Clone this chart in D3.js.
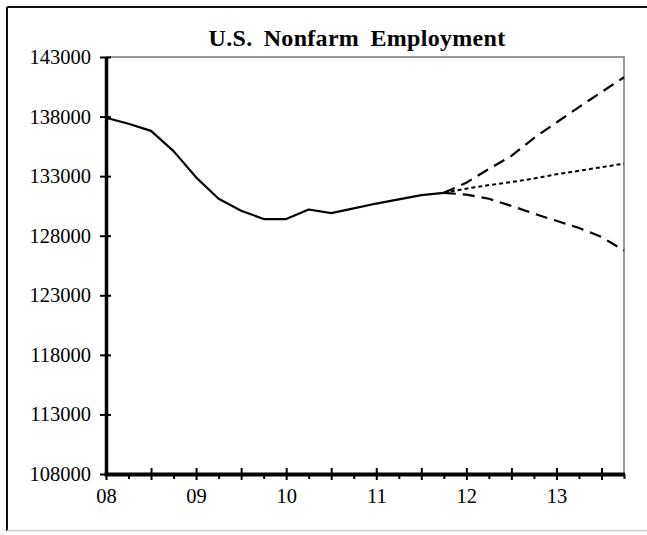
<!DOCTYPE html>
<html>
<head>
<meta charset="utf-8">
<script src="https://cdn.jsdelivr.net/npm/d3@7"></script>
<style>
  html, body { margin: 0; padding: 0; background: #fff; }
  svg { display: block; }
  text { font-family: "Liberation Serif", "Times New Roman", serif; fill: #000; }
</style>
</head>
<body>
<svg id="chart" width="647" height="535"></svg>
<script>
// Quarterly payroll employment, thousands of jobs
const actualQuarters = [2008, 2008.25, 2008.5, 2008.75, 2009, 2009.25, 2009.5, 2009.75,
                        2010, 2010.25, 2010.5, 2010.75, 2011, 2011.25, 2011.5, 2011.75];
const actualValues = [137900, 137400, 136800, 135100, 132900, 131100, 130100, 129400,
                      129400, 130200, 129900, 130300, 130700, 131050, 131400, 131600];

// Projection paths branching from the last actual quarter
const forecastQuarters = [2011.75, 2012, 2012.25, 2012.5, 2012.75, 2013, 2013.25, 2013.5, 2013.75];
const highValues = [131600, 132450, 133600, 134700, 136200, 137500, 138800, 140050, 141300];
const midValues  = [131600, 131950, 132250, 132500, 132800, 133150, 133450, 133750, 134050];
const lowValues  = [131600, 131450, 131100, 130500, 129850, 129250, 128650, 127900, 126750];

const yTickValues = [108000, 113000, 118000, 123000, 128000, 133000, 138000, 143000];
const xLabelYears = [2008, 2009, 2010, 2011, 2012, 2013];
const xTickLabels = ["08", "09", "10", "11", "12", "13"];
const halfYearTicks = [2008, 2008.5, 2009, 2009.5, 2010, 2010.5, 2011, 2011.5, 2012, 2012.5, 2013, 2013.5];
const quarterTicks = [2008.25, 2008.75, 2009.25, 2009.75, 2010.25, 2010.75, 2011.25, 2011.75,
                      2012.25, 2012.75, 2013.25, 2013.75];

const svg = d3.select("#chart");

const plotLeft = 106, plotRight = 624, plotTop = 57, plotBottom = 474;

const x = d3.scaleLinear().domain([2008, 2013.75]).range([plotLeft, plotRight]);
const y = d3.scaleLinear().domain([108000, 143000]).range([plotBottom, plotTop]);

// Outer frame: dark top/left, light bottom
svg.append("line").attr("x1", 7).attr("y1", 7).attr("x2", 647).attr("y2", 7)
  .attr("stroke", "#111").attr("stroke-width", 2);
svg.append("line").attr("x1", 7).attr("y1", 7).attr("x2", 7).attr("y2", 531)
  .attr("stroke", "#111").attr("stroke-width", 2);
svg.append("line").attr("x1", 7).attr("y1", 530.5).attr("x2", 647).attr("y2", 530.5)
  .attr("stroke", "#d0d0d0").attr("stroke-width", 1.5);

// Title
svg.append("text")
  .attr("x", 357).attr("y", 46)
  .attr("text-anchor", "middle")
  .style("font-size", "24px")
  .style("font-weight", "bold")
  .style("word-spacing", "5px")
  .style("letter-spacing", "0.3px")
  .text("U.S. Nonfarm Employment");

// Plot frame (top and right edges)
svg.append("path")
  .attr("d", `M${plotLeft},${plotTop}H${plotRight}V${plotBottom}`)
  .attr("fill", "none").attr("stroke", "#9a9a9a").attr("stroke-width", 2);

// Series lines
const line = d3.line().x(d => x(d[0])).y(d => y(d[1]));
const zip = (xs, ys) => xs.map((v, i) => [v, ys[i]]);

svg.append("path")
  .datum(zip(forecastQuarters, highValues))
  .attr("d", line).attr("fill", "none").attr("stroke", "#000")
  .attr("stroke-width", 2.2).attr("stroke-dasharray", "12,7");
svg.append("path")
  .datum(zip(forecastQuarters, lowValues))
  .attr("d", line).attr("fill", "none").attr("stroke", "#000")
  .attr("stroke-width", 2.2).attr("stroke-dasharray", "12,7");
svg.append("path")
  .datum(zip(forecastQuarters, midValues))
  .attr("d", line).attr("fill", "none").attr("stroke", "#000")
  .attr("stroke-width", 2).attr("stroke-dasharray", "4,3");
svg.append("path")
  .datum(zip(actualQuarters, actualValues))
  .attr("d", line).attr("fill", "none").attr("stroke", "#000")
  .attr("stroke-width", 2.2).attr("stroke-linejoin", "round");

// Y axis
const yAxis = svg.append("g")
  .attr("transform", `translate(${plotLeft},0)`)
  .call(d3.axisLeft(y).tickValues(yTickValues).tickFormat(d3.format("d"))
    .tickSizeInner(6).tickSizeOuter(0).tickPadding(9));
yAxis.select(".domain").attr("stroke", "#000").attr("stroke-width", 3.5);
yAxis.selectAll(".tick line").attr("x1", 5).attr("stroke-width", 2);
yAxis.selectAll(".tick text")
  .style("font-size", "20.5px").style("font-family", "Liberation Serif, serif");

// X axis: minor quarter ticks
const xMinor = svg.append("g")
  .attr("transform", `translate(0,${plotBottom})`)
  .call(d3.axisBottom(x).tickValues(quarterTicks).tickFormat("").tickSizeInner(5).tickSizeOuter(0));
xMinor.select(".domain").remove();
xMinor.selectAll(".tick line").attr("stroke-width", 2);

// X axis: half-year ticks, labelled at each year
const xAxis = svg.append("g")
  .attr("transform", `translate(0,${plotBottom})`)
  .call(d3.axisBottom(x).tickValues(halfYearTicks)
    .tickFormat(d => {
      const i = xLabelYears.indexOf(d);
      return i >= 0 ? xTickLabels[i] : "";
    })
    .tickSizeInner(6).tickSizeOuter(0).tickPadding(8));
xAxis.select(".domain").attr("stroke", "#000").attr("stroke-width", 4)
  .attr("d", `M${plotLeft - 1.5},0.5H${plotRight + 1}`);
xAxis.selectAll(".tick line").attr("y1", -6).attr("stroke-width", 2);
xAxis.selectAll(".tick text")
  .style("font-size", "20.5px").style("font-family", "Liberation Serif, serif");
</script>
</body>
</html>
